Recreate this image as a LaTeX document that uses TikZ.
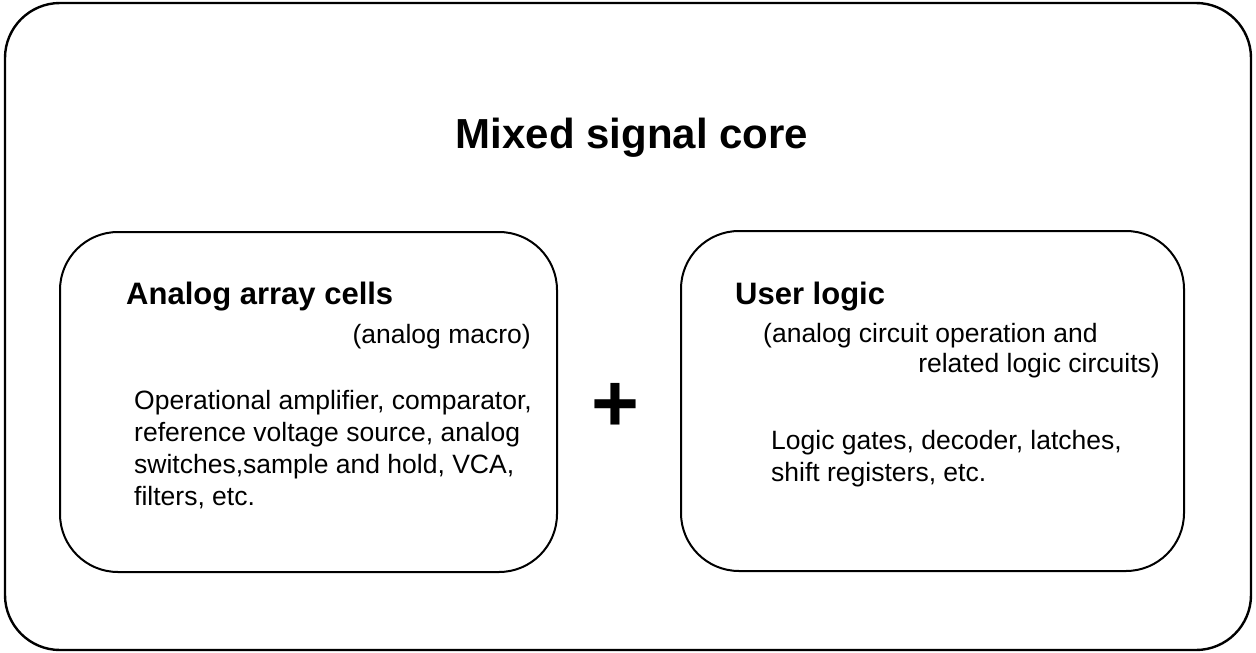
\documentclass[tikz,border=0pt]{standalone}
\usepackage{fontspec}
\setmainfont{Liberation Sans}
\usepackage{tikz}
\usetikzlibrary{positioning}
\definecolor{figLine}{HTML}{000000}

\begin{document}
\begin{tikzpicture}[x=1pt,y=-1pt,
    corebox/.style={draw=figLine,line width=2.4pt,rounded corners=55pt,
                    minimum width=1246pt,minimum height=647pt,inner sep=0pt},
    cellbox/.style={draw=figLine,line width=2pt,rounded corners=58pt,
                    minimum height=340pt,inner sep=0pt},
    headtxt/.style={anchor=base west,inner sep=0pt,font=\bfseries\fontsize{31}{36}\selectfont},
    bodytxt/.style={anchor=base west,inner sep=0pt,font=\fontsize{26.5}{31.5}\selectfont},
  ]
    \useasboundingbox (0,0) rectangle (1256,653);
    \node[corebox] (core) at (628,326.5) {};
    \node[anchor=base,inner sep=0pt,font=\bfseries\fontsize{42}{48}\selectfont] (title) at (632,148) {Mixed signal core};
    % analog part
    \node[cellbox,minimum width=497pt] (analog) at (308.5,402) {};
    \node[headtxt] (analoghead) at (126,304) {Analog array cells};
    \node[bodytxt,anchor=base east] (analogsub) at (531,343) {(analog macro)};
    \foreach \txt [count=\i] in {{Operational amplifier, comparator,},
        {reference voltage source, analog},{switches,sample and hold, VCA,},{filters, etc.}}
      \node[bodytxt] (analogline\i) at (134,377+32*\i) {\txt};
    % the plus
    \node[anchor=base,inner sep=0pt,font=\bfseries\fontsize{82}{90}\selectfont] (plus) at (615,431) {+};
    % logic part
    \node[cellbox,minimum width=503pt] (logic) at (932.5,401) {};
    \node[headtxt] (logichead) at (735,304) {User logic};
    \node[bodytxt] (logicsub1) at (763,342) {(analog circuit operation and};
    \node[bodytxt,anchor=base east] (logicsub2) at (1160,372) {related logic circuits)};
    \node[bodytxt] (logicline1) at (771,449) {Logic gates, decoder, latches,};
    \node[bodytxt] (logicline2) at (771,481) {shift registers, etc.};
  \end{tikzpicture}
\end{document}
